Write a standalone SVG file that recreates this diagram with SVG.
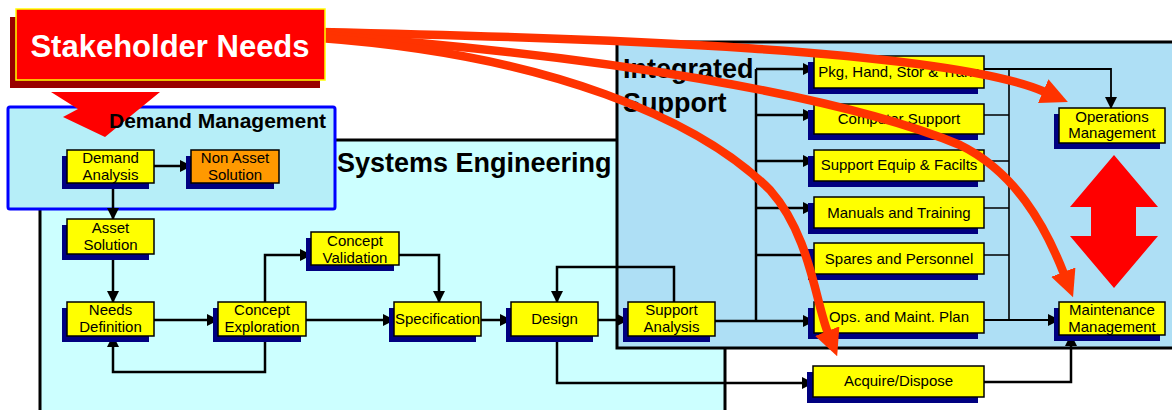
<svg xmlns="http://www.w3.org/2000/svg" width="1172" height="410" viewBox="0 0 1172 410">
<style>
text{font-family:"Liberation Sans",Arial,sans-serif;fill:#000}
.t{font-size:15px;text-anchor:middle}
.title{font-size:27px;font-weight:bold}
.box{fill:#FFFF00;stroke:#000;stroke-width:1.5}
.org{fill:#FF9900;stroke:#000;stroke-width:1.5}
.sh{fill:#000080}
.c{fill:none;stroke:#000;stroke-width:2.5}
.ca{fill:none;stroke:#000;stroke-width:2.5;marker-end:url(#ah)}
.thin{fill:none;stroke:#000;stroke-width:1.6}
.thina{fill:none;stroke:#000;stroke-width:1.8;marker-end:url(#ah)}
.red{fill:none;stroke:#FF3300;stroke-width:8.5;marker-end:url(#rh)}
</style>
<defs>
<marker id="ah" markerUnits="userSpaceOnUse" markerWidth="12" markerHeight="12" viewBox="0 0 12 12" refX="11" refY="6" orient="auto">
<path d="M0,0 L12,6 L0,12 z" fill="#000"/>
</marker>
<marker id="rh" markerUnits="userSpaceOnUse" markerWidth="27" markerHeight="26" viewBox="0 0 27 26" refX="2" refY="13" orient="auto">
<path d="M0,0 L27,13 L0,26 z" fill="#FF3300"/>
</marker>
</defs>

<!-- containers -->
<g id="systems-engineering">
<rect x="40" y="140" width="685" height="275" fill="#CCFFFF" stroke="#000" stroke-width="3"/>
<text class="title" x="337" y="172">Systems Engineering</text>
</g>
<g id="integrated-support">
<rect x="617" y="42" width="560" height="306" fill="#AEDFF5" stroke="#000" stroke-width="3"/>
<text class="title" x="623" y="78">Integrated</text>
<text class="title" x="623" y="112">Support</text>
</g>
<g id="demand-management">
<rect x="8" y="107" width="327" height="102" rx="2" fill="#B6EEF8" stroke="#0000FF" stroke-width="3"/>
<polygon points="51,92 160,92 105,137 63,117 78,109" fill="#FF0000"/>
<text x="109" y="128" style="font-size:21px;font-weight:bold">Demand Management</text>
</g>

<!-- connectors -->
<g id="connectors">
<path class="ca" d="M154,166 H191"/>
<path class="ca" d="M113,183 V219"/>
<path class="ca" d="M113,254 V302"/>
<path class="ca" d="M154,320 H218"/>
<path class="ca" d="M265,302 V255 H311"/>
<path class="ca" d="M265,336 V372 H113 V336"/>
<path class="ca" d="M306,320 H394"/>
<path class="ca" d="M399,255 H439 V302"/>
<path class="ca" d="M481,320 H511"/>
<path class="ca" d="M598,320 H628"/>
<path class="ca" d="M674,302 V267 H557 V302"/>
<path class="ca" d="M557,336 V383 H813"/>
<path class="ca" d="M715,321 H814"/>
<path class="c" d="M756,321 V69"/>
<path class="ca" d="M756,69 H814"/>
<path class="ca" d="M756,115 H814"/>
<path class="ca" d="M756,161 H814"/>
<path class="ca" d="M756,208 H814"/>
<path class="ca" d="M756,255 H814"/>
<path class="thin" d="M984,115 H1009 M984,161 H1009 M984,208 H1009 M984,255 H1009 M1009,69 V320"/>
<path class="thina" d="M984,69 H1111 V108"/>
<path class="thina" d="M984,320 H1059"/>
<path class="ca" d="M984,382 H1071 V335"/>
</g>

<!-- nodes -->
<g id="demand-analysis"><rect class="sh" x="62" y="156" width="87" height="33"/><rect class="box" x="67" y="150" width="87" height="33"/><text class="t" x="110.5" y="163">Demand</text><text class="t" x="110.5" y="180">Analysis</text></g>
<g id="non-asset-solution"><rect class="sh" x="186" y="156" width="88" height="33"/><rect class="org" x="191" y="150" width="88" height="33"/><text class="t" x="235" y="163">Non Asset</text><text class="t" x="235" y="180">Solution</text></g>
<g id="asset-solution"><rect class="sh" x="62" y="225" width="87" height="35"/><rect class="box" x="67" y="219" width="87" height="35"/><text class="t" x="110.5" y="233">Asset</text><text class="t" x="110.5" y="250">Solution</text></g>
<g id="needs-definition"><rect class="sh" x="62" y="308" width="87" height="34"/><rect class="box" x="67" y="302" width="87" height="34"/><text class="t" x="110.5" y="315">Needs</text><text class="t" x="110.5" y="332">Definition</text></g>
<g id="concept-exploration"><rect class="sh" x="213" y="308" width="88" height="34"/><rect class="box" x="218" y="302" width="88" height="34"/><text class="t" x="262" y="315">Concept</text><text class="t" x="262" y="332">Exploration</text></g>
<g id="concept-validation"><rect class="sh" x="306" y="238" width="88" height="33"/><rect class="box" x="311" y="232" width="88" height="33"/><text class="t" x="355" y="246">Concept</text><text class="t" x="355" y="263">Validation</text></g>
<g id="specification"><rect class="sh" x="389" y="308" width="87" height="34"/><rect class="box" x="394" y="302" width="87" height="34"/><text class="t" x="437.5" y="324">Specification</text></g>
<g id="design"><rect class="sh" x="506" y="308" width="87" height="34"/><rect class="box" x="511" y="302" width="87" height="34"/><text class="t" x="554.5" y="324">Design</text></g>
<g id="support-analysis"><rect class="sh" x="623" y="308" width="87" height="34"/><rect class="box" x="628" y="302" width="87" height="34"/><text class="t" x="671.5" y="315">Support</text><text class="t" x="671.5" y="332">Analysis</text></g>
<g id="pkg-hand"><rect class="sh" x="808" y="62" width="170" height="32"/><rect class="box" x="814" y="56" width="170" height="32"/><text class="t" x="899" y="77">Pkg, Hand, Stor &amp; Trans</text></g>
<g id="computer-support"><rect class="sh" x="808" y="110" width="170" height="30"/><rect class="box" x="814" y="104" width="170" height="30"/><text class="t" x="899" y="124">Computer Support</text></g>
<g id="support-equip"><rect class="sh" x="808" y="156" width="170" height="31"/><rect class="box" x="814" y="150" width="170" height="31"/><text class="t" x="899" y="170">Support Equip &amp; Facilts</text></g>
<g id="manuals-training"><rect class="sh" x="808" y="203" width="170" height="31"/><rect class="box" x="814" y="197" width="170" height="31"/><text class="t" x="899" y="218">Manuals and Training</text></g>
<g id="spares-personnel"><rect class="sh" x="808" y="249" width="170" height="31"/><rect class="box" x="814" y="243" width="170" height="31"/><text class="t" x="899" y="264">Spares and Personnel</text></g>
<g id="ops-maint-plan"><rect class="sh" x="808" y="308" width="170" height="31"/><rect class="box" x="814" y="302" width="170" height="31"/><text class="t" x="899" y="322">Ops. and Maint. Plan</text></g>
<g id="acquire-dispose"><rect class="sh" x="807" y="372" width="171" height="31"/><rect class="box" x="813" y="366" width="171" height="31"/><text class="t" x="898.5" y="386">Acquire/Dispose</text></g>
<g id="operations-management"><rect class="sh" x="1054" y="114" width="106" height="35"/><rect class="box" x="1059" y="108" width="106" height="35"/><text class="t" x="1112" y="122">Operations</text><text class="t" x="1112" y="138">Management</text></g>
<g id="maintenance-management"><rect class="sh" x="1054" y="308" width="106" height="33"/><rect class="box" x="1059" y="302" width="106" height="33"/><text class="t" x="1112" y="315">Maintenance</text><text class="t" x="1112" y="332">Management</text></g>

<g id="double-arrow">
<polygon points="1114,155 1158,207 1136,207 1136,236 1158,236 1114,288 1070,236 1091,236 1091,207 1070,207" fill="#FF0000"/>
</g>

<!-- stakeholder influence curves -->
<g id="influence">
<path class="red" d="M320,32 C600,38 950,50 1045,92"/>
<path class="red" d="M320,35 C600,55 840,95 960,145 C1015,172 1045,225 1064,274"/>
<path class="red" d="M320,38 C550,55 700,120 770,190 C810,235 815,300 828,333"/>
</g>

<g id="stakeholder-needs">
<rect x="10" y="17" width="310" height="71" fill="#990000"/>
<rect x="16" y="9" width="309" height="71" fill="#FF0000" stroke="#FFFF00" stroke-width="1.5"/>
<text x="170" y="57" style="font-size:31px;font-weight:bold;fill:#FFFFFF;text-anchor:middle">Stakeholder Needs</text>
</g>
</svg>
